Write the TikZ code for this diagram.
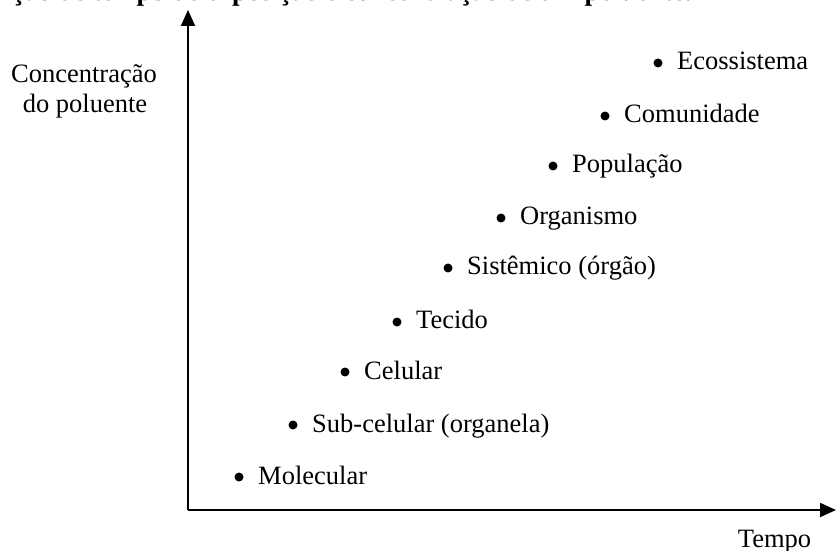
\documentclass[tikz,border=0pt]{standalone}
\usepackage{fontspec}
\setmainfont{Liberation Serif}
\usetikzlibrary{arrows.meta}
\begin{document}
\begin{tikzpicture}[x=1bp,y=-1bp,
  lbl/.style={inner sep=0pt,anchor=base west,font=\fontsize{26.5bp}{32bp}\selectfont},
  dot/.style={circle,fill=black,inner sep=0pt,minimum size=9bp},
  axis/.style={line width=2bp,-{Triangle[width=14bp,length=16bp]}}]
\useasboundingbox (0,0) rectangle (836,551);
\fill[white] (0,0) rectangle (836,551);
% title (cut off at top)
\node[lbl,font=\fontsize{27.3bp}{32bp}\selectfont\bfseries] (title) at (12,0.5) {ção de tempo de exposição e concentração de um poluente.};
% axes
\coordinate (o) at (188,510);
\coordinate (ytop) at (188,10);
\coordinate (xend) at (836,510);
\draw[axis] (o) -- (ytop);
\draw[axis] (o) -- (xend);
\node[inner sep=0pt,anchor=base,font=\fontsize{26.5bp}{32bp}\selectfont] (tempo) at (774.5,547) {Tempo};
\node[inner sep=0pt,anchor=base,font=\fontsize{26.5bp}{32bp}\selectfont] (conc1) at (84,83) {Concentração};
\node[inner sep=0pt,anchor=base,font=\fontsize{26.5bp}{32bp}\selectfont] (conc2) at (85,113) {do poluente};
% levels
\foreach \n/\x/\y/\t in {eco/658/63/Ecossistema, com/605/116/Comunidade, pop/553/166/População, org/501/218/Organismo, sis/448/268/Sistêmico (órgão), tec/397/322/Tecido, cel/345/372/Celular, sub/293/425/Sub-celular (organela), mol/239/477/Molecular}{
  \node[dot] (d\n) at (\x,\y) {};
  \node[lbl] (t\n) at (\x+19,\y+7) {\t};
}
\end{tikzpicture}
\end{document}
